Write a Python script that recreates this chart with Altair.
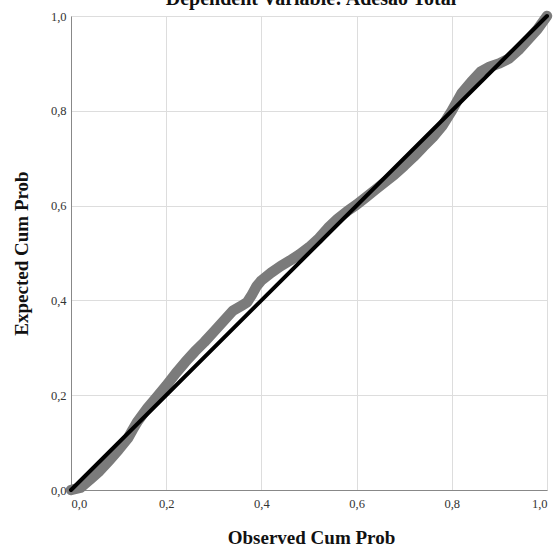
import altair as alt
import pandas as pd

TITLE = "Dependent Variable: Adesão Total"
X_TITLE = "Observed Cum Prob"
Y_TITLE = "Expected Cum Prob"
TICKS = [0.0, 0.2, 0.4, 0.6, 0.8, 1.0]

observed = [0.00, 0.02, 0.04, 0.06, 0.08, 0.10, 0.12, 0.13, 0.14, 0.16, 0.18,
            0.20, 0.22, 0.24, 0.26, 0.28, 0.30, 0.32, 0.34, 0.36, 0.37, 0.38,
            0.39, 0.40, 0.42, 0.44, 0.46, 0.48, 0.50, 0.52, 0.54, 0.56, 0.58,
            0.60, 0.62, 0.64, 0.66, 0.68, 0.70, 0.72, 0.74, 0.76, 0.78, 0.80,
            0.82, 0.84, 0.86, 0.88, 0.90, 0.92, 0.94, 0.96, 0.98, 1.00]
expected = [0.000, 0.005, 0.022, 0.040, 0.062, 0.085, 0.110, 0.128, 0.145, 0.172, 0.196,
            0.220, 0.246, 0.270, 0.292, 0.312, 0.334, 0.356, 0.378, 0.390, 0.396, 0.412,
            0.430, 0.442, 0.458, 0.472, 0.484, 0.497, 0.512, 0.530, 0.553, 0.572, 0.588,
            0.602, 0.618, 0.634, 0.650, 0.666, 0.684, 0.703, 0.724, 0.744, 0.768, 0.800,
            0.836, 0.860, 0.882, 0.893, 0.900, 0.910, 0.928, 0.950, 0.972, 1.000]

ref_x = [0.0, 1.0]
ref_y = [0.0, 1.0]

FONT = "Liberation Serif"
fmt = "replace(format(datum.value, '.1f'), '.', ',')"

pts = pd.DataFrame({"obs": observed, "exp": expected})
ref = pd.DataFrame({"obs": ref_x, "exp": ref_y})
ttl = pd.DataFrame({"t": [TITLE]})

xscale = alt.Scale(domain=[0, 1], nice=False, zero=False)
yscale = alt.Scale(domain=[0, 1], nice=False, zero=False)

xaxis = alt.Axis(values=TICKS, labelExpr=fmt, title=X_TITLE, grid=True, ticks=False,
                 labelPadding=7, labelFontSize=12.5, labelFont=FONT, labelColor="#333333",
                 titleFont=FONT, titleFontSize=19, titleFontWeight="bold", titleColor="#111111",
                 titleX=240, titleY=53, titleBaseline="alphabetic", titleAlign="center")
yaxis = alt.Axis(values=TICKS, labelExpr=fmt, title=Y_TITLE, grid=True, ticks=False,
                 labelPadding=5, labelFontSize=12.5, labelFont=FONT, labelColor="#333333",
                 titleFont=FONT, titleFontSize=19, titleFontWeight="bold", titleColor="#111111",
                 titleX=-50, titleY=237, titleAngle=-90, titleBaseline="middle", titleAlign="center")

band = alt.Chart(pts).mark_line(color="#7b7b7b", strokeWidth=10.5, strokeCap="round",
                                strokeJoin="round").encode(
    x=alt.X("obs:Q", scale=xscale, axis=xaxis),
    y=alt.Y("exp:Q", scale=yscale, axis=yaxis),
    order="obs:Q",
)

line = alt.Chart(ref).mark_line(color="#000000", strokeWidth=4, strokeCap="round").encode(
    x=alt.X("obs:Q", scale=xscale),
    y=alt.Y("exp:Q", scale=yscale),
)

title = alt.Chart(ttl).mark_text(font=FONT, fontSize=20, fontWeight="bold", color="#111111",
                                 align="center", baseline="alphabetic").encode(
    x=alt.value(240), y=alt.value(-11), text="t:N"
)

chart = alt.layer(band, line, title).properties(
    width=476, height=474,
    autosize=alt.AutoSizeParams(type="none"),
    padding={"left": 71, "top": 16, "right": 8, "bottom": 62},
).configure_axis(
    gridColor="#d4d4d4", gridWidth=1, domainColor="#666666", domainWidth=1,
).configure_view(strokeOpacity=0).configure(background="white")

chart.save("out.html", embed_options={"renderer": "svg", "actions": False})
